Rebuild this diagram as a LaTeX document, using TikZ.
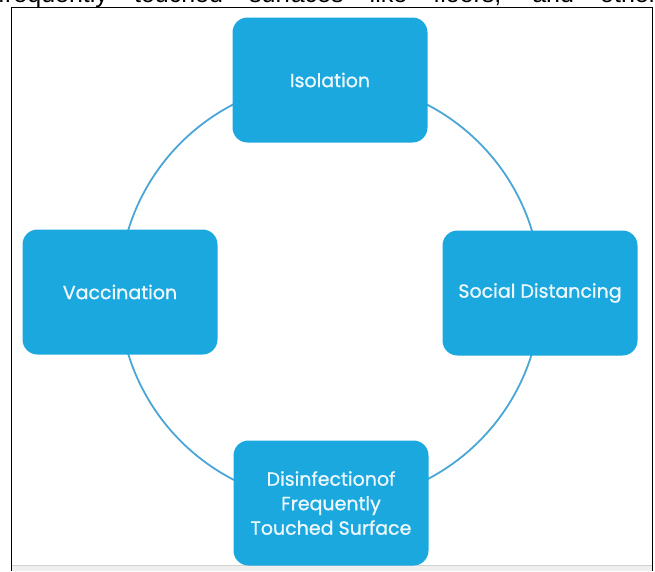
\documentclass[tikz,border=0pt]{standalone}
\usepackage{fontspec}
\setmainfont{Liberation Sans}
\newfontfamily\boxfont[FakeBold=0.9]{Poppins}
\usetikzlibrary{positioning}
\definecolor{boxblue}{HTML}{1BA8DF}
\definecolor{ringblue}{HTML}{4AA6D8}
\definecolor{boxtext}{HTML}{EEF8FC}
\definecolor{bandgray}{HTML}{EFEFEF}

\begin{document}
\begin{tikzpicture}[x=1pt,y=-1pt,
  stepbox/.style={fill=boxblue,rounded corners=15pt,minimum width=195pt,
    minimum height=125pt,inner sep=0pt,text=boxtext,align=center,
    font=\boxfont\fontsize{19}{24.5}\selectfont},
  ring/.style={draw=ringblue,line width=1.8pt}]
  \useasboundingbox(0,0)rectangle(655,571);
  % page text cut off above the frame
  \begin{scope}
    \clip(0,0)rectangle(655,7);
    \node[anchor=base west,inner sep=0pt,font=\fontsize{25}{30}\selectfont] (pagetext) at(-2,2)
      {\makebox[659pt][s]{frequently touched surfaces like floors, and other}};
  \end{scope}
  % frame and grey band at the foot
  \fill[bandgray](11,565)rectangle(652,571);
  \draw[gray!35,line width=0.8pt](11,565)--(652,565);
  \draw[line width=1pt](11,571)--(11,7)--(652,7)--(652,571);
  % the ring behind the boxes
  \coordinate (hub) at (330,292);
  \draw[ring](hub)circle(211);
  \node[stepbox] (isolation) at (330,80) {Isolation};
  \node[stepbox] (social) at (540,293) {Social Distancing};
  \node[stepbox] (vaccine) at (120,292) {Vaccination};
  \node[stepbox] (disinfect) at (331,503) {Disinfectionof\\Frequently\\Touched Surface};
\end{tikzpicture}
\end{document}
